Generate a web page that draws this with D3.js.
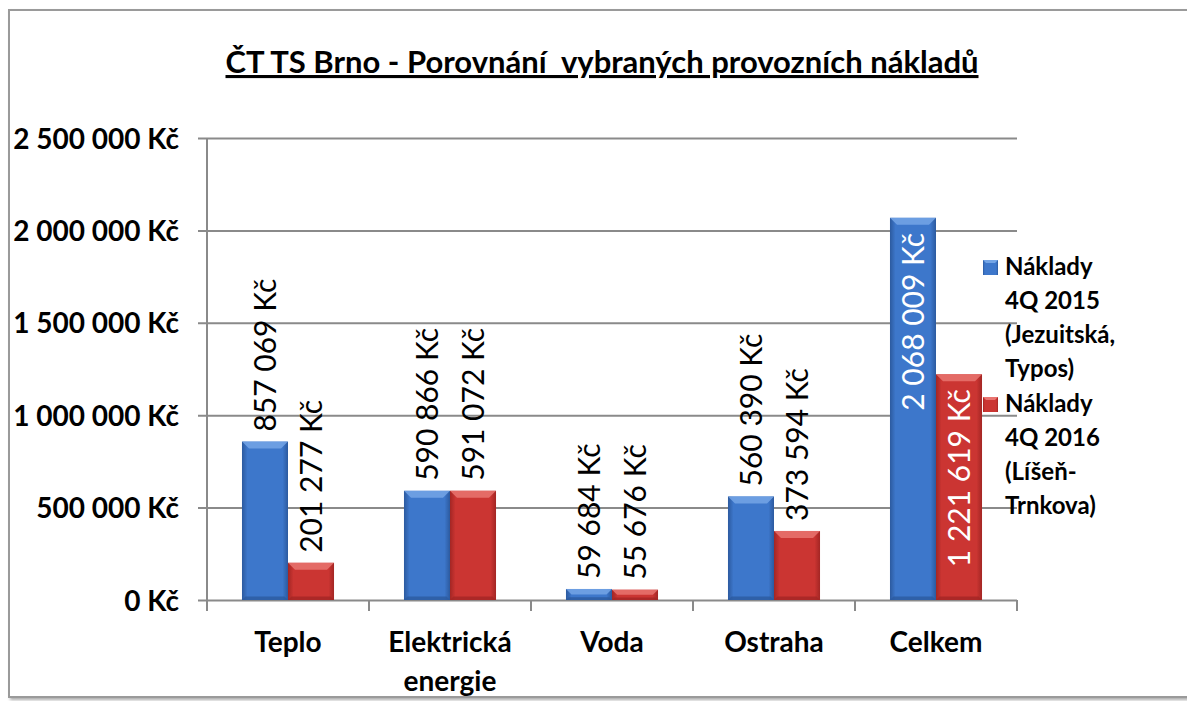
<!DOCTYPE html>
<html>
<head>
<meta charset="utf-8">
<script src="https://cdn.jsdelivr.net/npm/d3@7"></script>
<style>
  html, body { margin: 0; padding: 0; background: #fff; }
  svg { display: block; font-family: Lato, "Open Sans", sans-serif; }
</style>
</head>
<body>
<div id="chart"></div>
<script>
const width = 1187;
const height = 701;

const categories = ['Teplo', 'Elektrická\nenergie', 'Voda', 'Ostraha', 'Celkem'];
const seriesNames = ['Náklady 4Q 2015 (Jezuitská, Typos)', 'Náklady 4Q 2016 (Líšeň-Trnkova)'];
const costs2015 = [857069, 590866, 59684, 560390, 2068009];
const costs2016 = [201277, 591072, 55676, 373594, 1221619];
const yTicks = [0, 500000, 1000000, 1500000, 2000000, 2500000];
const legendLines = [
  ['Náklady', '4Q 2015', '(Jezuitská,', 'Typos)'],
  ['Náklady', '4Q 2016', '(Líšeň-', 'Trnkova)']
];

const fmt = v => d3.format(',')(v).replace(/,/g, ' ') + ' Kč';

const svg = d3.select('#chart').append('svg')
  .attr('width', width)
  .attr('height', height);

const defs = svg.append('defs');

// bar gradients, something like the excel bevel look
const palettes = [
  { id: 'blue', edge: '#2c5a9f', mid: '#3d77cb', top: '#74a5e6' },
  { id: 'red', edge: '#a32624', mid: '#cb3532', top: '#e97470' }
];
palettes.forEach(p => {
  const g = defs.append('linearGradient').attr('id', 'body-' + p.id)
    .attr('x1', 0).attr('x2', 1).attr('y1', 0).attr('y2', 0);
  g.append('stop').attr('offset', '0%').attr('stop-color', p.edge);
  g.append('stop').attr('offset', '12%').attr('stop-color', p.mid);
  g.append('stop').attr('offset', '88%').attr('stop-color', p.mid);
  g.append('stop').attr('offset', '100%').attr('stop-color', p.edge);
});

const shadow = defs.append('filter').attr('id', 'frameShadow')
  .attr('x', '-5%').attr('y', '-5%').attr('width', '110%').attr('height', '110%');
shadow.append('feDropShadow').attr('dx', 2).attr('dy', 2).attr('stdDeviation', 1.5)
  .attr('flood-color', '#888').attr('flood-opacity', 0.7);

// frame
svg.append('rect')
  .attr('x', 9).attr('y', 10)
  .attr('width', 1200).attr('height', 687)
  .attr('fill', '#fff')
  .attr('stroke', '#9a9a9a')
  .attr('stroke-width', 2)
  .attr('filter', 'url(#frameShadow)');

// title
svg.append('text')
  .attr('x', 602).attr('y', 73)
  .attr('text-anchor', 'middle')
  .attr('font-size', 31)
  .attr('font-weight', 'bold')
  .attr('text-decoration', 'underline')
  .attr('fill', '#000')
  .style('white-space', 'pre')
  .text('ČT TS Brno - Porovnání  vybraných provozních nákladů');

const plot = { left: 207, right: 1017, top: 138, bottom: 600 };

const x0 = d3.scaleBand()
  .domain(categories)
  .range([plot.left, plot.right])
  .padding(0);

const x1 = d3.scaleBand()
  .domain([0, 1])
  .range([0, x0.bandwidth()])
  .paddingInner(0)
  .paddingOuter(0.76);

const y = d3.scaleLinear()
  .domain([0, 2500000])
  .range([plot.bottom, plot.top]);

// gridlines + y ticks
const yAxis = d3.axisLeft(y)
  .tickValues(yTicks)
  .tickSize(-(plot.right - plot.left))
  .tickSizeOuter(0)
  .tickPadding(28)
  .tickFormat(fmt);

const yG = svg.append('g')
  .attr('transform', `translate(${plot.left},0)`)
  .call(yAxis);
yG.select('.domain').remove();
yG.selectAll('.tick line')
  .attr('x1', -9)
  .attr('stroke', '#8a8a8a')
  .attr('stroke-width', 2);
yG.selectAll('.tick text')
  .attr('font-size', 28)
  .attr('font-weight', 'bold')
  .attr('font-family', 'Lato, sans-serif')
  .attr('fill', '#000')
  .attr('dy', '0.36em');

// y axis line
svg.append('line')
  .attr('x1', plot.left).attr('x2', plot.left)
  .attr('y1', plot.top).attr('y2', plot.bottom)
  .attr('stroke', '#8a8a8a').attr('stroke-width', 2);

// x ticks at category boundaries
const boundaries = categories.map(c => x0(c)).concat([plot.right]);
svg.append('g').selectAll('line')
  .data(boundaries)
  .join('line')
  .attr('x1', d => d).attr('x2', d => d)
  .attr('y1', plot.bottom).attr('y2', plot.bottom + 11)
  .attr('stroke', '#8a8a8a').attr('stroke-width', 2);

// x labels
svg.append('g').selectAll('text')
  .data(categories)
  .join('text')
  .attr('x', d => x0(d) + x0.bandwidth() / 2)
  .attr('y', 652)
  .attr('text-anchor', 'middle')
  .attr('font-size', 28)
  .attr('font-weight', 'bold')
  .attr('fill', '#000')
  .each(function(d) {
    d.split('\n').forEach((line, i) => {
      d3.select(this).append('tspan')
        .attr('x', x0(d) + x0.bandwidth() / 2)
        .attr('dy', i === 0 ? 0 : 39)
        .text(line);
    });
  });

// bars
const series = [costs2015, costs2016];
const bars = [];
series.forEach((vals, si) => {
  vals.forEach((v, ci) => bars.push({ si, ci, v, cat: categories[ci] }));
});

const barG = svg.append('g');
bars.forEach(b => {
  const bx = x0(b.cat) + x1(b.si);
  const bw = x1.bandwidth();
  const by = y(b.v);
  const bh = y(0) - by;
  const p = palettes[b.si];
  const g = barG.append('g');
  g.append('rect')
    .attr('x', bx).attr('y', by)
    .attr('width', bw).attr('height', bh)
    .attr('fill', `url(#body-${p.id})`);
  const bev = Math.min(7, bh / 2);
  g.append('path')
    .attr('d', `M${bx},${by} L${bx + bw},${by} L${bx + bw - bev},${by + bev} L${bx + bev},${by + bev} Z`)
    .attr('fill', p.top)
    .attr('opacity', 0.85);
  g.append('path')
    .attr('d', `M${bx},${by + bh} L${bx + bw},${by + bh} L${bx + bw - bev / 2},${by + bh - bev / 2} L${bx + bev / 2},${by + bh - bev / 2} Z`)
    .attr('fill', p.edge)
    .attr('opacity', 0.8);
});

// data labels, rotated
svg.append('g').selectAll('text')
  .data(bars)
  .join('text')
  .attr('transform', d => {
    const cx = x0(d.cat) + x1(d.si) + x1.bandwidth() / 2;
    const inside = d.cat === 'Celkem';
    const ty = inside ? y(d.v) + 15 : y(d.v) - 10;
    return `translate(${cx},${ty}) rotate(-90)`;
  })
  .attr('text-anchor', d => d.cat === 'Celkem' ? 'end' : 'start')
  .attr('dy', '0.36em')
  .attr('font-size', 30)
  .attr('fill', d => d.cat === 'Celkem' ? '#fff' : '#000')
  .text(d => fmt(d.v));

// legend
const legend = svg.append('g');
legendLines.forEach((lines, si) => {
  const top = 260 + si * 137;
  const p = palettes[si];
  legend.append('rect')
    .attr('x', 983).attr('y', top)
    .attr('width', 15).attr('height', 15)
    .attr('fill', `url(#body-${p.id})`);
  legend.append('path')
    .attr('d', `M983,${top} L998,${top} L995,${top + 3} L986,${top + 3} Z`)
    .attr('fill', p.top);
  legend.append('text')
    .attr('x', 1005)
    .attr('y', top + 15)
    .attr('font-size', 24)
    .attr('font-weight', 'bold')
    .attr('fill', '#000')
    .selectAll('tspan')
    .data(lines)
    .join('tspan')
    .attr('x', 1005)
    .attr('dy', (d, i) => i === 0 ? 0 : 34)
    .text(d => d);
});
</script>
</body>
</html>
